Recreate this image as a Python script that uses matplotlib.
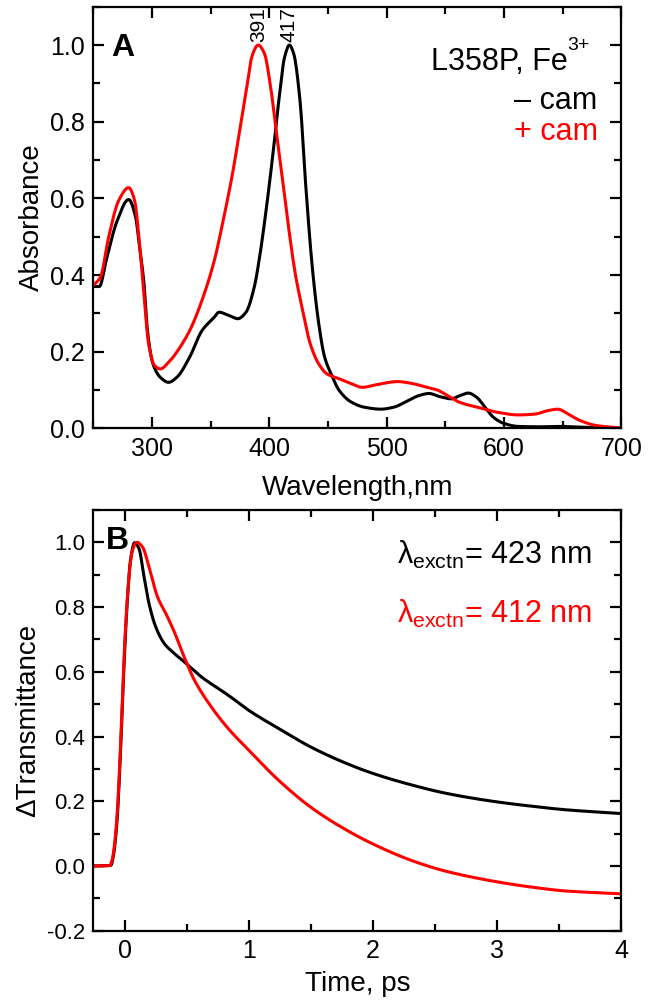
import matplotlib
matplotlib.use("Agg")
import matplotlib.pyplot as plt
from matplotlib.ticker import MultipleLocator
import numpy as np

plt.rcParams['font.family'] = ['Liberation Sans', 'DejaVu Sans']
plt.rcParams['mathtext.fontset'] = 'custom'
plt.rcParams['mathtext.rm'] = 'Liberation Sans'
plt.rcParams['mathtext.it'] = 'Liberation Sans'

# ---- Panel A: absorbance spectra ----
wl_minus = [250, 255, 261, 270, 280, 286, 289, 293, 296, 300.7, 307, 314, 321, 332, 342.5, 353, 357,
            365.6, 373, 380, 387, 392, 397.5, 403, 408, 413, 417, 420.6, 426, 431, 436.5, 442, 447,
            452.5, 459.6, 470, 481, 495, 505.7, 518, 527, 536, 544.7, 555, 562, 569.5, 576.6, 583.7,
            590.8, 599.6, 612, 630, 647.5, 665, 700]
abs_minus = [0.37, 0.37, 0.44, 0.54, 0.597, 0.55, 0.48, 0.38, 0.255, 0.168, 0.133, 0.12, 0.133, 0.186,
             0.255, 0.29, 0.303, 0.294, 0.286, 0.303, 0.368, 0.455, 0.578, 0.717, 0.856, 0.97, 1.0,
             0.978, 0.856, 0.63, 0.42, 0.273, 0.186, 0.142, 0.098, 0.068, 0.055, 0.05, 0.055, 0.072,
             0.085, 0.091, 0.083, 0.077, 0.085, 0.092, 0.081, 0.055, 0.029, 0.013, 0.005, 0.004,
             0.005, 0.003, 0.0]

wl_plus = [250, 256, 263, 271.6, 280, 285, 289, 293, 297, 302, 307, 314, 321, 332, 342.5, 353, 360,
           369, 376, 381.6, 385, 390.4, 395.7, 401, 406, 412, 417, 422, 427.7, 434.8, 442, 449,
           459.6, 470, 479, 491.5, 509, 520, 534, 543, 552, 562, 580, 594, 612, 626, 637, 645.7,
           654.6, 665, 679, 700]
abs_plus = [0.373, 0.395, 0.50, 0.595, 0.628, 0.595, 0.49, 0.35, 0.22, 0.164, 0.155, 0.172, 0.199,
            0.255, 0.334, 0.438, 0.534, 0.673, 0.804, 0.908, 0.97, 1.0, 0.978, 0.89, 0.77, 0.63,
            0.508, 0.403, 0.316, 0.22, 0.168, 0.142, 0.129, 0.116, 0.107, 0.114, 0.122, 0.118,
            0.107, 0.10, 0.085, 0.068, 0.053, 0.042, 0.035, 0.037, 0.046, 0.05, 0.037, 0.02,
            0.007, 0.001]

peak_labels = ["391", "417"]
peak_wl = [391, 417]

# ---- Panel B: transient transmittance ----
t_423 = [-0.25, -0.11, -0.087, -0.06, -0.033, -0.006, 0.021, 0.048, 0.081, 0.116, 0.157, 0.197,
         0.251, 0.319, 0.4, 0.48, 0.617, 0.834, 1.0, 1.24, 1.498, 1.755, 2.0, 2.325, 2.596, 3.0,
         3.273, 3.544, 4.0]
dT_423 = [0.0, 0.002, 0.038, 0.14, 0.347, 0.605, 0.81, 0.945, 0.999, 0.981, 0.894, 0.811, 0.739,
          0.688, 0.657, 0.631, 0.585, 0.528, 0.481, 0.425, 0.368, 0.322, 0.286, 0.249, 0.224,
          0.198, 0.185, 0.174, 0.162]

t_412 = [-0.25, -0.12, -0.1, -0.074, -0.047, -0.02, 0.007, 0.035, 0.06, 0.1, 0.143, 0.197, 0.265,
         0.333, 0.4, 0.48, 0.563, 0.698, 0.834, 1.0, 1.24, 1.498, 1.755, 2.0, 2.325, 2.596, 3.0,
         3.273, 3.544, 4.0]
dT_412 = [0.0, 0.001, 0.018, 0.09, 0.244, 0.49, 0.73, 0.89, 0.97, 1.0, 0.987, 0.925, 0.832, 0.78,
          0.724, 0.646, 0.574, 0.492, 0.425, 0.358, 0.265, 0.182, 0.118, 0.068, 0.015, -0.017,
          -0.049, -0.065, -0.077, -0.086]

RED = '#ff0000'
LW = 2.2


def smooth(x, y, n=800):
    xs = np.asarray(x, float)
    ys = np.asarray(y, float)
    # monotone cubic (PCHIP) interpolation for display smoothness
    h = np.diff(xs)
    d = np.diff(ys) / h
    m = np.zeros_like(ys)
    for k in range(1, len(xs) - 1):
        if d[k - 1] * d[k] > 0:
            w1 = 2 * h[k] + h[k - 1]
            w2 = h[k] + 2 * h[k - 1]
            m[k] = (w1 + w2) / (w1 / d[k - 1] + w2 / d[k])
    m[0] = d[0]
    m[-1] = d[-1]
    xn = np.linspace(xs[0], xs[-1], n)
    idx = np.clip(np.searchsorted(xs, xn) - 1, 0, len(xs) - 2)
    hh = h[idx]
    tt = (xn - xs[idx]) / hh
    h00 = 2 * tt**3 - 3 * tt**2 + 1
    h10 = tt**3 - 2 * tt**2 + tt
    h01 = -2 * tt**3 + 3 * tt**2
    h11 = tt**3 - tt**2
    yn = h00 * ys[idx] + h10 * hh * m[idx] + h01 * ys[idx + 1] + h11 * hh * m[idx + 1]
    return xn, yn


fig = plt.figure(figsize=(6.5, 10.05), dpi=100)
axA = fig.add_axes([0.1438, 0.5738, 0.8123, 0.4195])
axB = fig.add_axes([0.1438, 0.0739, 0.8123, 0.4186])

for ax in (axA, axB):
    for s in ax.spines.values():
        s.set_linewidth(1.6)
    ax.tick_params(which='both', direction='in', top=True, right=True, width=1.6,
                   labelsize=18, pad=6)
    ax.tick_params(which='major', length=8)
    ax.tick_params(which='minor', length=5)

# Panel A
x, y = smooth(wl_minus, abs_minus)
axA.plot(x, y, color='black', lw=LW)
x, y = smooth(wl_plus, abs_plus)
axA.plot(x, y, color=RED, lw=LW)
axA.set_xlim(250, 700)
axA.set_ylim(0, 1.1)
axA.xaxis.set_major_locator(MultipleLocator(100))
axA.xaxis.set_minor_locator(MultipleLocator(50))
axA.yaxis.set_major_locator(MultipleLocator(0.2))
axA.yaxis.set_minor_locator(MultipleLocator(0.1))
axA.yaxis.set_major_formatter(plt.FormatStrFormatter('%.1f'))
axA.set_xlabel('Wavelength,nm', fontsize=20, labelpad=10)
axA.set_ylabel('Absorbance', fontsize=20, labelpad=4)
axA.text(0.033, 0.901, 'A', transform=axA.transAxes, fontsize=23, fontweight='bold',
         va='center', ha='left')
for lab, w in zip(peak_labels, peak_wl):
    axA.text(w, 1.008, lab, rotation=90, ha='center', va='bottom', fontsize=15)
tFe = axA.text(0.898, 0.850, 'L358P, Fe', transform=axA.transAxes, fontsize=22,
               ha='right', va='baseline')
axA.annotate('3+', xy=(1.0, 0.78), xycoords=tFe, fontsize=14, ha='left', va='bottom')
axA.text(0.955, 0.757, '\u2013 cam', transform=axA.transAxes, fontsize=22,
         ha='right', va='baseline', color='black')
axA.text(0.955, 0.684, '+ cam', transform=axA.transAxes, fontsize=22,
         ha='right', va='baseline', color=RED)

# Panel B
x, y = smooth(t_423, dT_423)
axB.plot(x, y, color='black', lw=LW)
x, y = smooth(t_412, dT_412)
axB.plot(x, y, color=RED, lw=LW)
axB.set_xlim(-0.25, 4)
axB.set_ylim(-0.2, 1.1)
axB.xaxis.set_major_locator(MultipleLocator(1))
axB.xaxis.set_minor_locator(MultipleLocator(0.5))
axB.yaxis.set_major_locator(MultipleLocator(0.2))
axB.yaxis.set_minor_locator(MultipleLocator(0.1))
axB.yaxis.set_major_formatter(plt.FormatStrFormatter('%.1f'))
axB.tick_params(axis='y', labelsize=16)
axB.tick_params(axis='x', labelsize=18)
axB.set_xlabel('Time, ps', fontsize=20, labelpad=6)
axB.set_ylabel('\u0394Transmittance', fontsize=20, labelpad=4)
axB.text(0.024, 0.926, 'B', transform=axB.transAxes, fontsize=23, fontweight='bold',
         va='center', ha='left')
axB.text(0.944, 0.872, r'$\lambda_{\mathrm{exctn}}$= 423 nm', transform=axB.transAxes,
         fontsize=22, ha='right', va='baseline', color='black')
axB.text(0.944, 0.732, r'$\lambda_{\mathrm{exctn}}$= 412 nm', transform=axB.transAxes,
         fontsize=22, ha='right', va='baseline', color=RED)

fig.savefig('out.png', dpi=100)
